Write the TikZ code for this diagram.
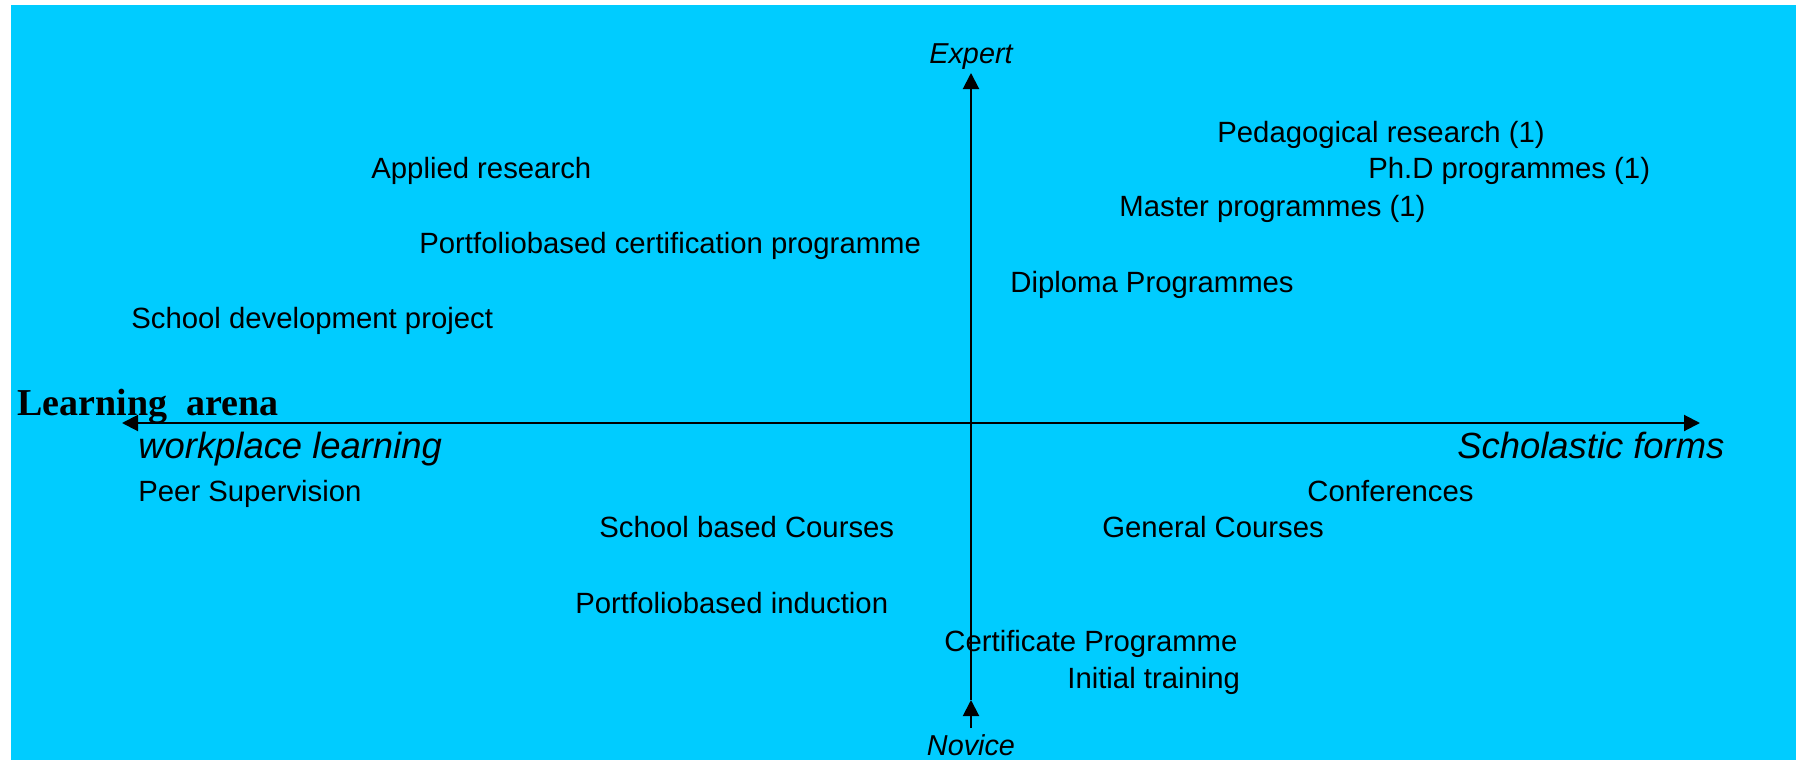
\documentclass[tikz,border=0pt]{standalone}
\usepackage{fontspec}
\setmainfont{Liberation Sans}
\newfontfamily\serifbold{Liberation Serif}
\usetikzlibrary{arrows.meta}
\definecolor{bgcyan}{HTML}{00CCFF}
\begin{document}
\begin{tikzpicture}[x=0.5pt,y=-0.5pt,
  lbl/.style={anchor=base west, inner sep=0, font=\fontsize{14.65}{17}\selectfont},
  pole/.style={anchor=base, inner sep=0, font=\fontsize{14.4}{17}\selectfont\itshape},
  bigit/.style={anchor=base west, inner sep=0, font=\fontsize{18.2}{21}\selectfont\itshape},
  axisline/.style={line width=1pt},
  axisarrow/.style={line width=1pt, -{Triangle[length=8pt,width=8pt]}}]
\useasboundingbox (0,0) rectangle (1796,760);
\fill[white] (0,0) rectangle (1796,760);
\fill[bgcyan] (11,5) rectangle (1796,760);
% axes
\coordinate (o) at (971,423);
\coordinate (top) at (971,73);
\coordinate (bot) at (971,728);
\coordinate (bottip) at (971,700);
\coordinate (lefttip) at (122,423);
\coordinate (righttip) at (1700,423);
\draw[axisline] (bottip) -- (o);
\draw[axisarrow] (o) -- (top);
\draw[axisarrow] (o) -- (lefttip);
\draw[axisarrow] (o) -- (righttip);
\draw[axisarrow] (bot) -- (bottip);
% poles
\node[pole] (expert) at (971,63) {Expert};
\node[pole] (novice) at (971,755) {Novice};
\node[bigit] (workplace) at (138,458) {workplace learning};
\node[bigit] (scholastic) at (1457,458) {Scholastic forms};
\node[anchor=base west, inner sep=0, font=\fontsize{19}{22}\selectfont\serifbold\bfseries] (arena) at (17,415) {Learning~~arena};
% upper left
\node[lbl] (applied) at (371,178) {Applied research};
\node[lbl] (pfcert) at (419,253) {Portfoliobased certification programme};
\node[lbl] (schooldev) at (131,328) {School development project};
% upper right
\node[lbl] (pedres) at (1217,142) {Pedagogical research (1)};
\node[lbl] (phd) at (1368,178) {Ph.D programmes (1)};
\node[lbl] (master) at (1119,216) {Master programmes (1)};
\node[lbl] (diploma) at (1010,292) {Diploma Programmes};
% lower left
\node[lbl] (peer) at (138,501) {Peer Supervision};
\node[lbl] (schoolcourses) at (599,537) {School based Courses};
\node[lbl] (pfind) at (575,613) {Portfoliobased induction};
% lower right
\node[lbl] (conf) at (1307,501) {Conferences};
\node[lbl] (general) at (1102,537) {General Courses};
\node[lbl] (cert) at (944,651) {Certificate Programme};
\node[lbl] (initial) at (1067,688) {Initial training};
\end{tikzpicture}
\end{document}
